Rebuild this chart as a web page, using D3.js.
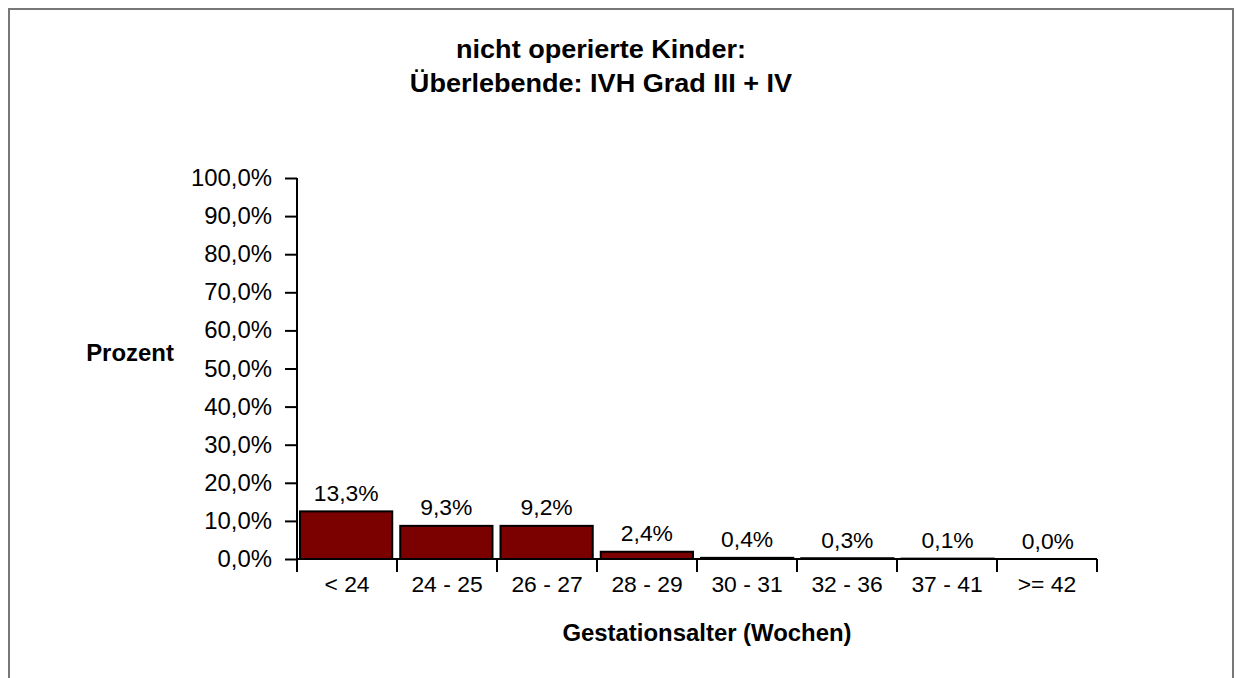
<!DOCTYPE html>
<html><head><meta charset="utf-8">
<script src="https://cdn.jsdelivr.net/npm/d3@7"></script>
<style>
html,body{margin:0;padding:0;background:#fff;}
svg{display:block;font-family:"Liberation Sans",Arial,Helvetica,sans-serif;}
</style></head>
<body>
<svg id="chart" width="1236" height="678"></svg>
<script>
// ---- data ----
const titleLines = ["nicht operierte Kinder:", "Überlebende: IVH Grad III + IV"];
const categories = ["< 24", "24 - 25", "26 - 27", "28 - 29", "30 - 31", "32 - 36", "37 - 41", ">= 42"];
const valueLabels = ["13,3%", "9,3%", "9,2%", "2,4%", "0,4%", "0,3%", "0,1%", "0,0%"];
// bar heights as drawn in the picture (percent)
const barValues = [12.5, 8.7, 8.7, 1.9, 0.3, 0.2, 0.1, 0.0];
const yTicks = [0, 10, 20, 30, 40, 50, 60, 70, 80, 90, 100];
const yTickLabels = ["0,0%", "10,0%", "20,0%", "30,0%", "40,0%", "50,0%", "60,0%", "70,0%", "80,0%", "90,0%", "100,0%"];
const yTitle = "Prozent";
const xTitle = "Gestationsalter (Wochen)";

// ---- layout ----
const svg = d3.select("#chart");
const plotLeft = 297, plotRight = 1097, plotTop = 178, plotBottom = 559;
const sx = 1.04; // horizontal stretch of text

svg.append("rect").attr("x", 9).attr("y", 9).attr("width", 1224).attr("height", 720)
  .attr("fill", "#fff").attr("stroke", "#777").attr("stroke-width", 2);

const xAxisScale = d3.scaleBand().domain(categories).range([plotLeft, plotRight]).padding(0);
const xBar = d3.scaleBand().domain(categories).range([plotLeft, plotRight]).paddingInner(0.08).paddingOuter(0.03);
const y = d3.scaleLinear().domain([0, 100]).range([plotBottom, plotTop]);

function stretchedText(g, x, yy, txt, anchor, size, weight) {
  return g.append("text")
    .attr("transform", `translate(${x},${yy}) scale(${sx},1)`)
    .attr("text-anchor", anchor)
    .attr("font-size", size)
    .attr("font-weight", weight || "normal")
    .attr("fill", "#000")
    .text(txt);
}

// title
titleLines.forEach((t, i) => stretchedText(svg, 601, 58 + i * 34, t, "middle", 26, "bold"));

// y axis
const yAxis = svg.append("g").attr("transform", `translate(${plotLeft},0)`)
  .call(d3.axisLeft(y).tickValues(yTicks).tickSize(12).tickFormat(""));
yAxis.select(".domain").attr("stroke", "#000").attr("stroke-width", 2).attr("d", `M0,${y(100)}V${y(0)}`);
yAxis.selectAll(".tick line").attr("stroke", "#000").attr("stroke-width", 2);
yTicks.forEach((v, i) => stretchedText(svg, 272, y(v) + 8, yTickLabels[i], "end", 23));

// bars
svg.append("g").selectAll("rect").data(categories).join("rect")
  .attr("x", d => xBar(d))
  .attr("width", xBar.bandwidth())
  .attr("y", (d, i) => y(barValues[i]))
  .attr("height", (d, i) => y(0) - y(barValues[i]))
  .attr("fill", "#7b0000")
  .attr("stroke", "#000")
  .attr("stroke-width", 2);

// x axis line and ticks at band boundaries
const xg = svg.append("g");
xg.append("line").attr("x1", plotLeft - 1).attr("x2", plotRight).attr("y1", y(0)).attr("y2", y(0))
  .attr("stroke", "#000").attr("stroke-width", 2);
const bounds = categories.map(c => xAxisScale(c)).concat([xAxisScale.range()[1]]);
xg.selectAll("line.tk").data(bounds).join("line").attr("class", "tk")
  .attr("x1", d => d).attr("x2", d => d).attr("y1", y(0)).attr("y2", y(0) + 13)
  .attr("stroke", "#000").attr("stroke-width", 2);
categories.forEach(c => stretchedText(svg, xAxisScale(c) + xAxisScale.bandwidth() / 2, 592, c, "middle", 22));

// value labels
categories.forEach((c, i) => stretchedText(svg, xBar(c) + xBar.bandwidth() / 2, y(barValues[i]) - 10.5, valueLabels[i], "middle", 22));

// axis titles
stretchedText(svg, 130, 361, yTitle, "middle", 23, "bold");
stretchedText(svg, 707, 641, xTitle, "middle", 23, "bold");
</script>
</body></html>
